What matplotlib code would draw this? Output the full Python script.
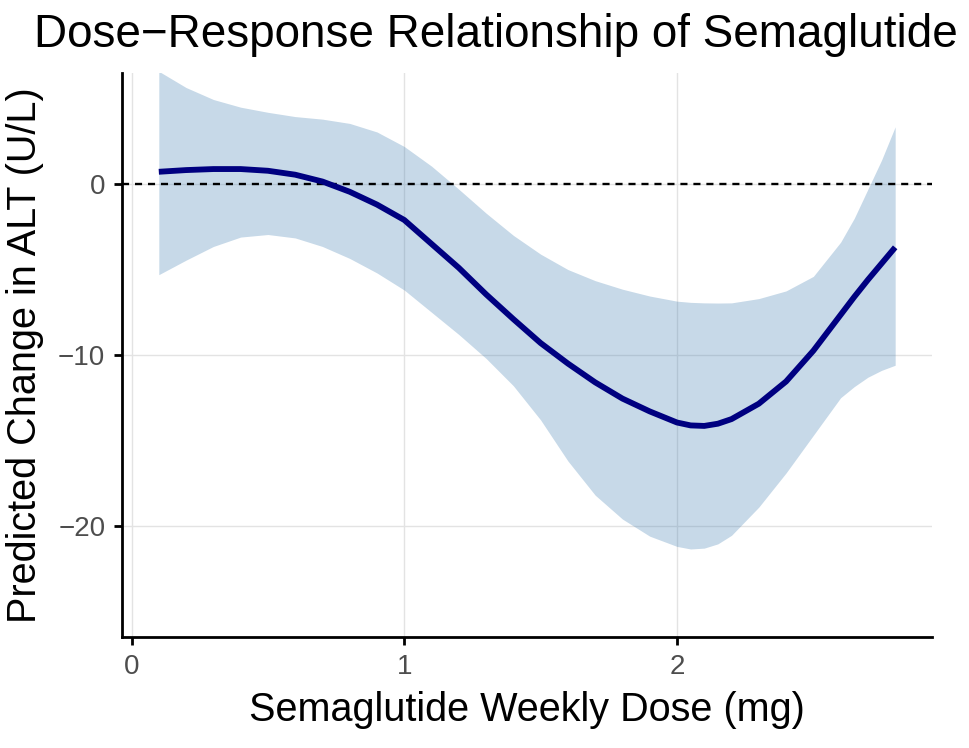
import matplotlib
matplotlib.use("Agg")
import matplotlib.pyplot as plt

# Data
dose = [0.10, 0.20, 0.30, 0.40, 0.50, 0.60, 0.70, 0.80, 0.90, 1.00, 1.10, 1.20, 1.30, 1.40,
        1.50, 1.60, 1.70, 1.80, 1.90, 2.00, 2.05, 2.10, 2.15, 2.20, 2.30, 2.40, 2.50, 2.60, 2.65,
        2.70, 2.75, 2.80]
fit = [0.72, 0.82, 0.88, 0.88, 0.78, 0.55, 0.15, -0.45, -1.20, -2.10, -3.50, -4.90, -6.45, -7.90,
       -9.30, -10.50, -11.60, -12.55, -13.30, -13.95, -14.12, -14.15, -14.02, -13.75, -12.85, -11.55, -9.75, -7.65, -6.60,
       -5.60, -4.65, -3.70]
upper = [6.60, 5.65, 4.95, 4.50, 4.20, 3.95, 3.80, 3.55, 3.05, 2.20, 1.05, -0.30, -1.70, -3.00,
         -4.10, -5.00, -5.65, -6.15, -6.55, -6.85, -6.92, -6.95, -6.96, -6.95, -6.70, -6.25, -5.40, -3.40, -2.00,
         -0.30, 1.40, 3.35]
lower = [-5.30, -4.45, -3.65, -3.10, -2.95, -3.15, -3.65, -4.35, -5.20, -6.20, -7.50, -8.80, -10.20, -11.80,
         -13.80, -16.20, -18.20, -19.60, -20.60, -21.20, -21.35, -21.30, -21.05, -20.55, -18.90, -16.90, -14.70, -12.50, -11.85,
         -11.30, -10.90, -10.60]

x_ticks = [0, 1, 2]
y_ticks = [-20, -10, 0]

FONT = ["Liberation Sans", "DejaVu Sans"]
plt.rcParams["font.family"] = FONT

fig = plt.figure(figsize=(9.69, 7.48), dpi=100)
ax = fig.add_axes([0.1259, 0.1484, 0.9618 - 0.1259, 0.9024 - 0.1484])

ax.fill_between(dose, lower, upper, color="steelblue", alpha=0.3, linewidth=0, zorder=2)
ax.plot(dose, fit, color="#000080", linewidth=4.2, solid_capstyle="butt",
        solid_joinstyle="round", zorder=4)
ax.axhline(0, color="black", linestyle=(0, (3, 2.5)), linewidth=1.7, zorder=3)

ax.set_xlim(-0.035, 2.935)
ax.set_ylim(-26.5, 6.5)
ax.set_xticks(x_ticks)
ax.set_yticks(y_ticks)
ax.set_yticklabels(["\u221220", "\u221210", "0"])
ax.grid(True, color="#E3E3E3", linewidth=1.0, zorder=0)
ax.set_axisbelow(True)

for s in ["top", "right"]:
    ax.spines[s].set_visible(False)
for s in ["left", "bottom"]:
    ax.spines[s].set_linewidth(2.0)
    ax.spines[s].set_color("black")

ax.tick_params(axis="both", length=6, width=2.0, color="black",
               labelsize=20, labelcolor="#4D4D4D", pad=6)

ax.set_xlabel("Semaglutide Weekly Dose (mg)", fontsize=28.5, labelpad=8)
ax.set_ylabel("Predicted Change in ALT (U/L)", fontsize=28.5, labelpad=10)
fig.text(0.512, 0.953, "Dose\u2212Response Relationship of Semaglutide",
         fontsize=33, ha="center", va="center")

fig.savefig("out.png", dpi=100, facecolor="white")
